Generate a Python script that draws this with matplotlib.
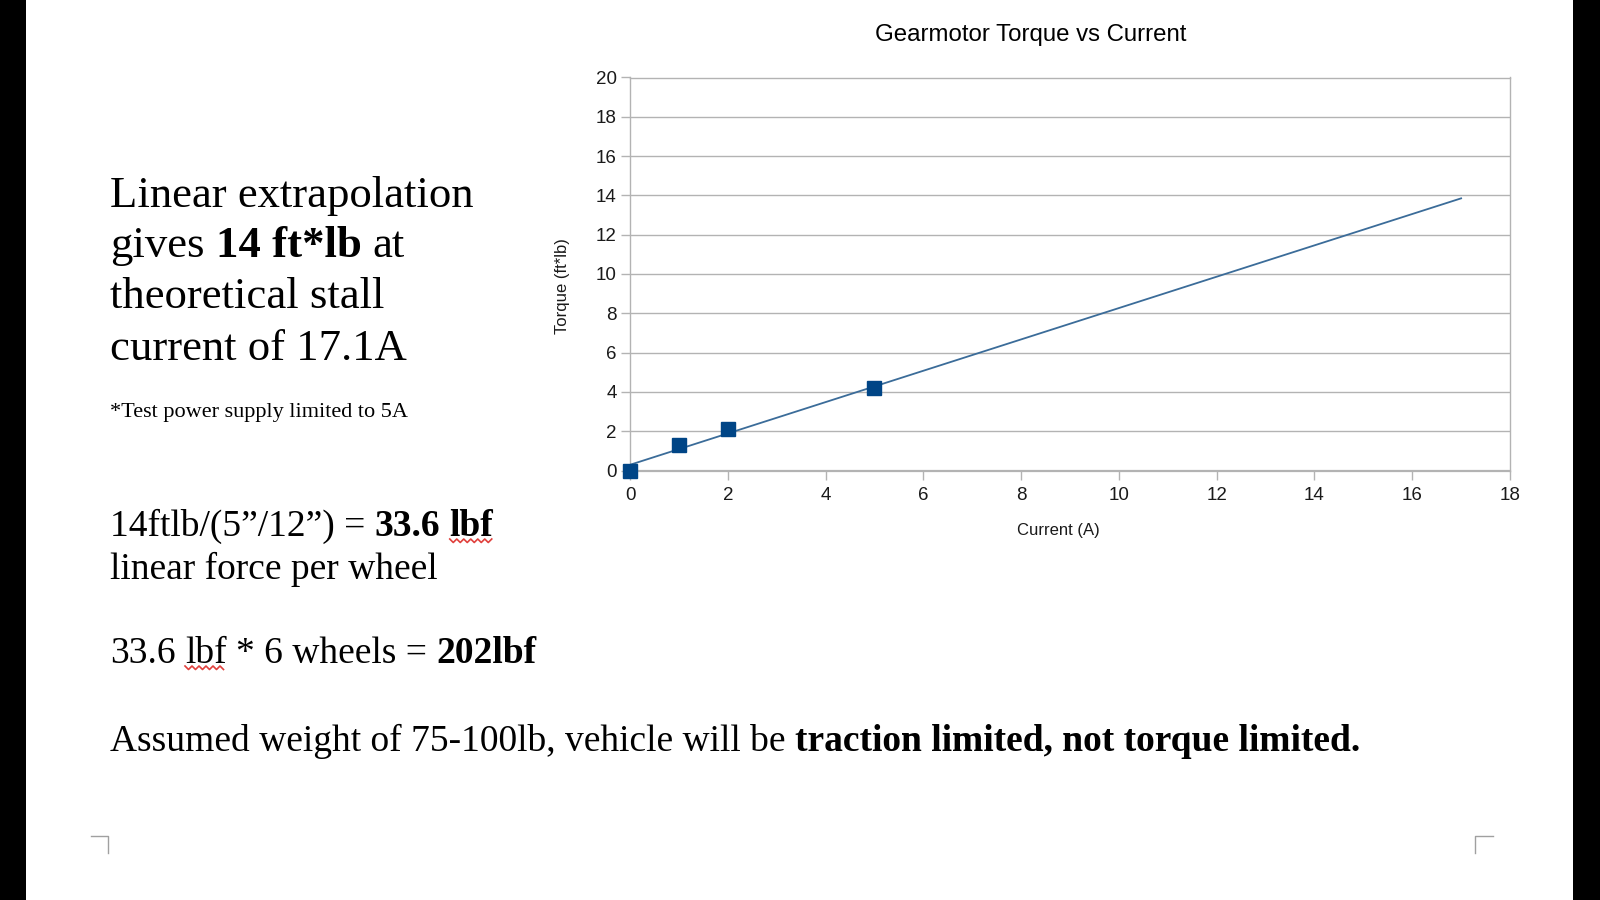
# 齿轮电机 扭矩-电流 图 (幻灯片页面)
import numpy as np
import matplotlib
matplotlib.use('Agg')
import matplotlib.pyplot as plt
from matplotlib.patches import Rectangle
from matplotlib.lines import Line2D

plt.rcParams['font.family'] = ['Liberation Sans', 'DejaVu Sans']

# 测量数据
current = [0, 1, 2, 5]
torque = [0, 1.3, 2.1, 4.2]
# 线性趋势线 (从图上读出的两端)
trend_current = [0, 17]
trend_torque = [0.29, 13.85]

x_ticks = list(range(0, 19, 2))
y_ticks = list(range(0, 21, 2))

title = 'Gearmotor Torque vs Current'
x_label = 'Current (A)'
y_label = 'Torque (ft*lb)'

W, H = 1600, 900
fig = plt.figure(figsize=(16, 9), dpi=100)
fig.patch.set_facecolor('white')


def fx(x):
    return np.asarray(x) / W


def fy(y):
    return 1 - np.asarray(y) / H


# 两侧黑边
fig.add_artist(Rectangle((0, 0), fx(25.5), 1, transform=fig.transFigure,
                         facecolor='black', edgecolor='none'))
fig.add_artist(Rectangle((fx(1573), 0), 1 - fx(1573), 1, transform=fig.transFigure,
                         facecolor='black', edgecolor='none'))

# 图表
ax = fig.add_axes([fx(630), fy(470.5), fx(1510) - fx(630), (470.5 - 77.5) / H])
ax.plot(trend_current, trend_torque, color='#3b6c99', lw=1.3, zorder=3)
ax.plot(current, torque, 's', ms=10, color='#004586', zorder=4, clip_on=False)
ax.set_xlim(0, 18)
ax.set_ylim(0, 20)
ax.set_xticks(x_ticks)
ax.set_yticks(y_ticks)
ax.yaxis.grid(True, color='#b3b3b3', lw=1)
ax.set_axisbelow(True)
for s in ax.spines.values():
    s.set_color('#b3b3b3')
    s.set_linewidth(1)
ax.spines['bottom'].set_linewidth(1.6)
ax.tick_params(colors='#b3b3b3', labelcolor='#1a1a1a', labelsize=13.5,
               length=6.5, width=1, direction='out')
ax.tick_params(axis='x', pad=5.5)
ax.tick_params(axis='y', pad=3)

ax.set_xlabel(x_label, fontsize=12, color='#1a1a1a')
ax.xaxis.label.set_va('center')
ax.xaxis.set_label_coords((1058 - 630) / 880, (470.5 - 530.6) / 393)
ax.set_ylabel(y_label, fontsize=12, color='#1a1a1a')
ax.yaxis.label.set_va('center')
ax.yaxis.set_label_coords((562 - 630) / 880, (470.5 - 285.7) / 393)

fig.text(fx(1031), fy(35), title, ha='center', va='center', fontsize=17.3, color='black')

# 左侧文字
renderer = fig.canvas.get_renderer()
serif = 'Liberation Serif'


def space_width(size, weight):
    a = fig.text(0, 0, 'x x', fontsize=size, fontweight=weight, family=serif)
    b = fig.text(0, 0, 'xx', fontsize=size, fontweight=weight, family=serif)
    w = a.get_window_extent(renderer).width - b.get_window_extent(renderer).width
    a.remove()
    b.remove()
    return w


def wavy(x0, x1, y):
    # 拼写检查的红色波浪线
    xs = np.arange(x0, x1 + 0.1, 3.5)
    ys = y + np.where(np.arange(len(xs)) % 2 == 0, 0.0, 3.5)
    fig.add_artist(Line2D(fx(xs), fy(ys), color='#e0403c', lw=1.2))


def text_line(x, y, runs, size):
    sp = space_width(size, 'normal')
    for run in runs:
        txt, bold = run[0], run[1]
        t = fig.text(fx(x), fy(y), txt, fontsize=size,
                     fontweight='bold' if bold else 'normal', family=serif,
                     va='baseline', ha='left', color='black')
        w = t.get_window_extent(renderer).width
        if len(run) > 2 and run[2]:
            wavy(x, x + w, y + 3)
        x += w + sp


x0 = 110
text_line(x0, 207, [('Linear extrapolation', False)], 32.2)
text_line(x0, 257, [('gives', False), ('14 ft*lb', True), ('at', False)], 32.2)
text_line(x0, 308, [('theoretical stall', False)], 32.2)
text_line(x0, 360, [('current of 17.1A', False)], 32.2)
text_line(x0, 417, [('*Test power supply limited to 5A', False)], 16)

text_line(x0, 536, [('14ftlb/(5\u201d/12\u201d) =', False), ('33.6', True), ('lbf', True, True)], 27)
text_line(x0, 579, [('linear force per wheel', False)], 27)
text_line(x0, 663, [('33.6', False), ('lbf', False, True), ('* 6 wheels =', False), ('202lbf', True)], 27)
text_line(x0, 751, [('Assumed weight of 75-100lb, vehicle will be', False),
                    ('traction limited, not torque limited.', True)], 27)

# 页面角标
mark = '#a0a0a0'
fig.add_artist(Line2D(fx([91, 108, 108]), fy([836, 836, 853]), color=mark, lw=1))
fig.add_artist(Line2D(fx([1493, 1475, 1475]), fy([836, 836, 853]), color=mark, lw=1))

fig.savefig('out.png', dpi=100, facecolor='white')
